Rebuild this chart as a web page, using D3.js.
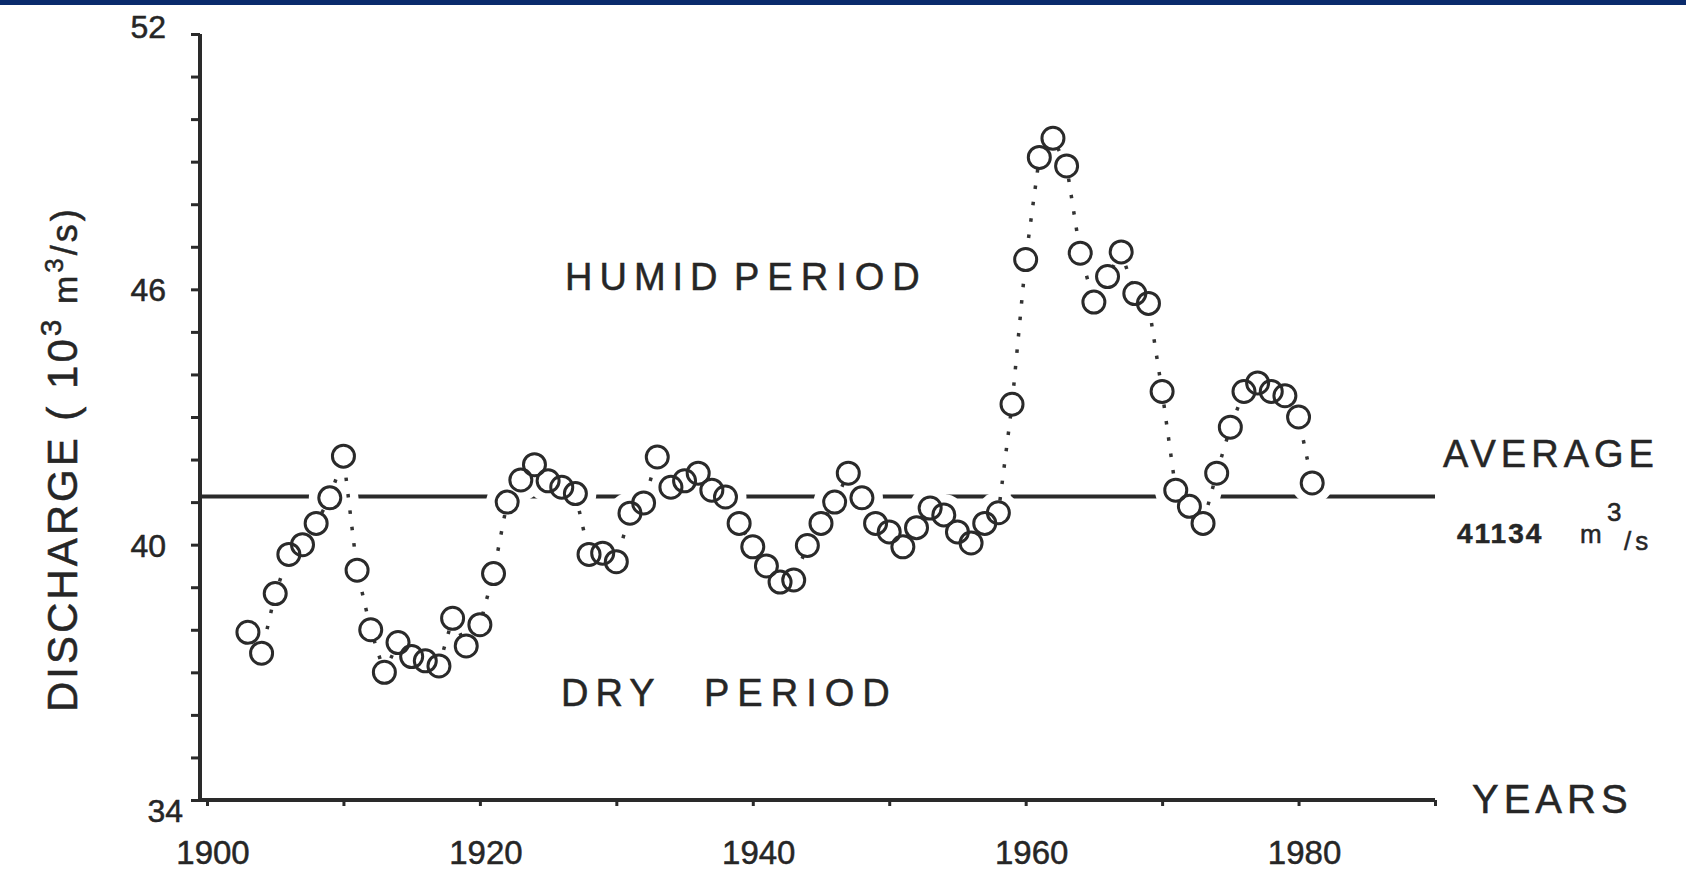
<!DOCTYPE html>
<html>
<head>
<meta charset="utf-8">
<script src="https://cdn.jsdelivr.net/npm/d3@7"></script>
<style>
body { margin: 0; background: #fff; }
svg text { font-family: "Liberation Sans", Arial, sans-serif; fill: #262626; stroke: #262626; stroke-width: 0.5px; }
</style>
</head>
<body>
<script>

// annual discharge, 10^3 m3/s
var years = [1903, 1904, 1905, 1906, 1907, 1908, 1909, 1910, 1911, 1912,
  1913, 1914, 1915, 1916, 1917, 1918, 1919, 1920, 1921, 1922,
  1923, 1924, 1925, 1926, 1927, 1928, 1929, 1930, 1931, 1932,
  1933, 1934, 1935, 1936, 1937, 1938, 1939, 1940, 1941, 1942,
  1943, 1944, 1945, 1946, 1947, 1948, 1949, 1950, 1951, 1952,
  1953, 1954, 1955, 1956, 1957, 1958, 1959, 1960, 1961, 1962,
  1963, 1964, 1965, 1966, 1967, 1968, 1969, 1970, 1971, 1972,
  1973, 1974, 1975, 1976, 1977, 1978, 1979, 1980, 1981];

var discharge = [37.94, 37.45, 38.85, 39.77, 40.0, 40.5, 41.1, 42.08, 39.4, 38.0,
  37.0, 37.7, 37.37, 37.27, 37.15, 38.27, 37.62, 38.12, 39.32, 41.0,
  41.52, 41.88, 41.5, 41.35, 41.2, 39.77, 39.8, 39.6, 40.74, 40.98,
  42.06, 41.35, 41.5, 41.68, 41.28, 41.12, 40.5, 39.95, 39.5, 39.12,
  39.17, 39.98, 40.5, 41.0, 41.68, 41.1, 40.5, 40.3, 39.95, 40.4,
  40.86, 40.7, 40.3, 40.04, 40.5, 40.75, 43.3, 46.7, 49.1, 49.55,
  48.9, 46.85, 45.7, 46.3, 46.88, 45.9, 45.67, 43.6, 41.28, 40.9,
  40.5, 41.68, 42.76, 43.6, 43.8, 43.6, 43.5, 43.0, 41.45];

var average = 41.134;
var yTicks = [34, 35, 36, 37, 38, 39, 40, 41, 42, 43, 44, 45, 46, 47, 48, 49, 50, 51, 52];
var yLabels = [34, 40, 46, 52];
var xTicks = [1900, 1910, 1920, 1930, 1940, 1950, 1960, 1970, 1980, 1990];
var xLabels = [1900, 1920, 1940, 1960, 1980];

var ink = '#2a2a2a';

var svg = d3.select('body').append('svg')
  .attr('width', 1686)
  .attr('height', 874);

// navy strip along the top edge
svg.append('rect').attr('width', 1686).attr('height', 5).attr('fill', '#0a2b6c');

var x = d3.scaleLinear().domain([1900, 1990]).range([207, 1435]);
var y = d3.scaleLinear().domain([34, 52]).range([800, 34]);
var axisX = 200;

var points = years.map(function(yr, i) {
  return { year: yr, value: discharge[i] };
});

var line = d3.line()
  .x(function(d) { return x(d.year); })
  .y(function(d) { return y(d.value); });

// average line
svg.append('line')
  .attr('x1', axisX).attr('x2', x(1990))
  .attr('y1', y(average)).attr('y2', y(average))
  .attr('stroke', ink).attr('stroke-width', 4);

// white halo so the average line breaks where the data crosses it
var halo = svg.append('g');
halo.append('path').datum(points)
  .attr('d', line)
  .attr('fill', 'none')
  .attr('stroke', '#fff')
  .attr('stroke-width', 20);
halo.selectAll('circle').data(points).enter().append('circle')
  .attr('cx', function(d) { return x(d.year); })
  .attr('cy', function(d) { return y(d.value); })
  .attr('r', 21)
  .attr('fill', '#fff');

// axes
svg.append('line')
  .attr('x1', axisX).attr('x2', axisX)
  .attr('y1', y(52)).attr('y2', y(34))
  .attr('stroke', ink).attr('stroke-width', 4);
svg.append('line')
  .attr('x1', axisX - 2).attr('x2', x(1990))
  .attr('y1', y(34)).attr('y2', y(34))
  .attr('stroke', ink).attr('stroke-width', 4);

var yAxis = svg.append('g')
  .attr('transform', 'translate(' + axisX + ',0)')
  .call(d3.axisLeft(y).tickValues(yTicks).tickSize(9).tickFormat(''));
yAxis.select('.domain').remove();
yAxis.selectAll('line').attr('stroke', ink).attr('stroke-width', 3);

var xAxis = svg.append('g')
  .attr('transform', 'translate(0,' + y(34) + ')')
  .call(d3.axisBottom(x).tickValues(xTicks).tickSize(6).tickFormat(''));
xAxis.select('.domain').remove();
xAxis.selectAll('line').attr('stroke', ink).attr('stroke-width', 3);

// tick labels
svg.selectAll('.ylab').data(yLabels).enter().append('text')
  .attr('class', 'ylab')
  .attr('x', function(d) { return d === 34 ? 183 : 166; })
  .attr('y', function(d) {
    if (d === 52) return y(d) + 4;
    if (d === 34) return y(d) + 22;
    return y(d) + 12;
  })
  .attr('text-anchor', 'end')
  .attr('font-size', 32)
  .text(function(d) { return d; });

svg.selectAll('.xlab').data(xLabels).enter().append('text')
  .attr('class', 'xlab')
  .attr('x', function(d) { return x(d) + 6; })
  .attr('y', 864)
  .attr('text-anchor', 'middle')
  .attr('font-size', 33)
  .text(function(d) { return d; });

// dotted connecting line
svg.append('path').datum(points)
  .attr('d', line)
  .attr('fill', 'none')
  .attr('stroke', '#333')
  .attr('stroke-width', 3.5)
  .attr('stroke-dasharray', '3.5 13');

// hide the dots inside the rings, then draw the rings
svg.append('g').selectAll('circle').data(points).enter().append('circle')
  .attr('cx', function(d) { return x(d.year); })
  .attr('cy', function(d) { return y(d.value); })
  .attr('r', 11)
  .attr('fill', '#fff');
svg.append('g').selectAll('circle').data(points).enter().append('circle')
  .attr('cx', function(d) { return x(d.year); })
  .attr('cy', function(d) { return y(d.value); })
  .attr('r', 11)
  .attr('fill', 'none')
  .attr('stroke', ink)
  .attr('stroke-width', 3);

// period labels
function word(txt, px, py, size, spacing) {
  return svg.append('text')
    .attr('x', px).attr('y', py)
    .attr('font-size', size)
    .attr('letter-spacing', spacing)
    .text(txt);
}
word('HUMID', 565, 290, 38, 7);
word('PERIOD', 734, 290, 38, 8);
word('DRY', 561, 706, 38, 7);
word('PERIOD', 704, 706, 38, 8);

word('AVERAGE', 1443, 467, 38, 5);
word('41134', 1457, 543, 28, 2).attr('font-weight', 'bold');
word('m', 1580, 543, 26, 0);
word('3', 1607, 521, 26, 0);
word('/s', 1624, 550, 26, 4);

word('YEARS', 1472, 813, 40, 5);

// rotated y label
var yl = svg.append('text')
  .attr('transform', 'translate(77,712) rotate(-90)')
  .attr('font-size', 42)
  .attr('letter-spacing', 3);
yl.append('tspan').text('DISCHARGE ( 10');
yl.append('tspan').attr('dy', -16).attr('font-size', 30).text('3');
yl.append('tspan').attr('dy', 16).attr('font-size', 34).text(' m');
yl.append('tspan').attr('dy', -14).attr('font-size', 26).text('3');
yl.append('tspan').attr('dy', 14).attr('font-size', 36).text('/s)');

</script>
</body>
</html>
